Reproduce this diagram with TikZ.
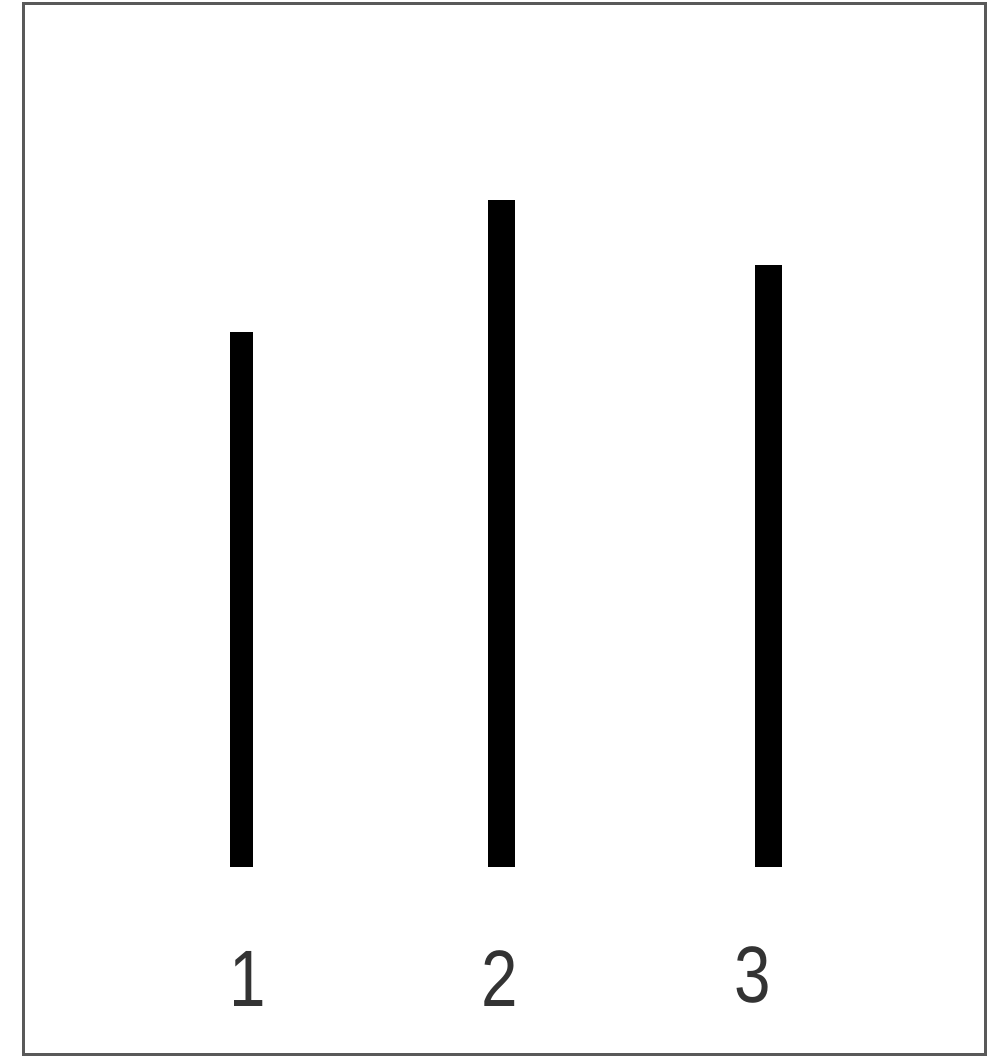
\documentclass[tikz,border=0pt]{standalone}
\usepackage{fontspec}
\setmainfont{Liberation Sans}[FakeStretch=0.82]
\begin{document}
\begin{tikzpicture}[x=1pt,y=1pt,
  frame/.style={draw=black!65,line width=3pt},
  barline/.style={fill=black},
  numlabel/.style={text=black!80,font=\fontsize{80}{80}\selectfont,inner sep=0pt,anchor=center}]
\useasboundingbox (0,0) rectangle (995,1062);
\fill[white] (0,0) rectangle (995,1062);
\node[frame,minimum width=962pt,minimum height=1051pt,inner sep=0pt,anchor=south west] (box) at (21.5,5.5) {};
\path[barline] (230,1062-867) rectangle (253,1062-332);
\path[barline] (488,1062-867) rectangle (515,1062-200);
\path[barline] (755,1062-867) rectangle (782,1062-265);
\node[numlabel] (l1) at (248,1062-979) {1};
\node[numlabel] (l2) at (500,1062-979) {2};
\node[numlabel] (l3) at (753,1062-975) {3};
\end{tikzpicture}
\end{document}
